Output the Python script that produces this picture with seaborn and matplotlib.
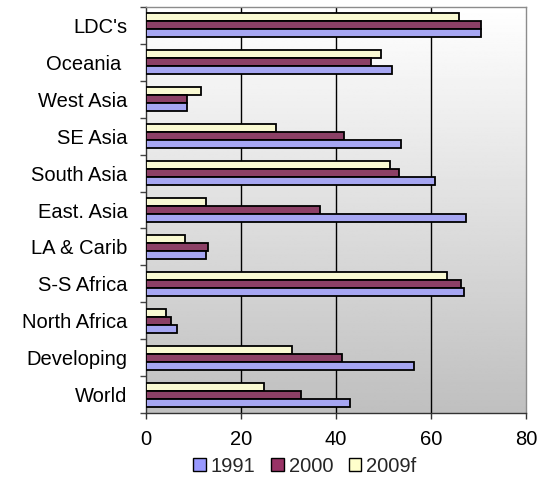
import numpy as np
import pandas as pd
import matplotlib
matplotlib.use("Agg")
import matplotlib.pyplot as plt
from matplotlib.patches import Patch
import seaborn as sns

regions = ["LDC's", "Oceania ", "West Asia", "SE Asia", "South Asia", "East. Asia",
           "LA & Carib", "S-S Africa", "North Africa", "Developing", "World"]
years = ["1991", "2000", "2009f"]
v1991 = [70.6, 51.7, 8.6, 53.6, 60.8, 67.3, 12.6, 66.9, 6.5, 56.5, 43.0]
v2000 = [70.6, 47.4, 8.6, 41.6, 53.2, 36.6, 13.0, 66.3, 5.3, 41.3, 32.6]
v2009f = [65.9, 49.5, 11.5, 27.4, 51.4, 12.6, 8.2, 63.3, 4.2, 30.7, 24.9]
x_ticks = [0, 20, 40, 60, 80]

colors = {"1991": "#9999FF", "2000": "#993366", "2009f": "#FFFFCC"}

df = pd.DataFrame({
    "region": regions * 3,
    "year": ["1991"] * len(regions) + ["2000"] * len(regions) + ["2009f"] * len(regions),
    "value": v1991 + v2000 + v2009f,
})

sns.set_theme(style="white")
plt.rcParams["font.family"] = ["Liberation Sans", "DejaVu Sans"]
FS = 14.5

fig = plt.figure(figsize=(5.42, 4.82), dpi=100)
ax = fig.add_axes([146 / 542, 69 / 482, 380 / 542, 406 / 482])

# vertical grey gradient behind the plot area
grad = np.linspace(1.0, 0.75, 256).reshape(-1, 1)
ax.imshow(grad, cmap="gray", vmin=0, vmax=1, aspect="auto",
          extent=[0, 1, 0, 1], transform=ax.transAxes, zorder=0)

sns.barplot(data=df, y="region", x="value", hue="year", order=regions,
            hue_order=["2009f", "2000", "1991"], palette=colors,
            orient="h", width=0.65, edgecolor="black", linewidth=1.3,
            legend=False, ax=ax, zorder=3)

ax.set_xlim(0, 80)
ax.set_ylim(len(regions) - 0.5, -0.5)
ax.set_xticks(x_ticks)
ax.set_xticklabels([str(t) for t in x_ticks], fontsize=FS)
ax.set_yticks(range(len(regions)))
ax.set_yticklabels(regions, fontsize=FS)
ax.set_yticks(np.arange(-0.5, len(regions), 1.0), minor=True)
ax.set_xlabel("")
ax.set_ylabel("")

for x in x_ticks[1:-1]:
    ax.axvline(x, color="black", linewidth=1.0, zorder=1)

ax.tick_params(axis="y", which="major", length=0, pad=13.5, colors="black")
ax.tick_params(axis="y", which="minor", length=4.5, width=1, direction="out", color="#444444", left=True)
ax.tick_params(axis="x", which="major", length=4, width=1, direction="out", pad=8, bottom=True,
               labelcolor="black", color="#333333")

for side in ["top", "right"]:
    ax.spines[side].set_color("#8c8c8c")
    ax.spines[side].set_linewidth(1.0)
for side in ["left", "bottom"]:
    ax.spines[side].set_color("#333333")
    ax.spines[side].set_linewidth(1.0)

handles = [Patch(facecolor=colors[y], edgecolor="black", linewidth=1.0, label=y) for y in years]
fig.legend(handles=handles, loc="center", bbox_to_anchor=(305 / 542, 16 / 482), ncol=3,
           frameon=False, fontsize=FS, handlelength=0.6, handleheight=0.6,
           handletextpad=0.25, columnspacing=0.8, borderaxespad=0)

fig.savefig("out.png", dpi=100)
